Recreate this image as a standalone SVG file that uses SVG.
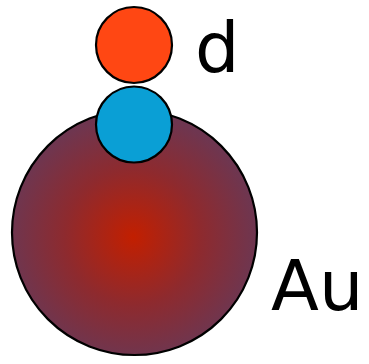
<svg xmlns="http://www.w3.org/2000/svg" width="369" height="364" viewBox="0 0 369 364">
<defs>
<radialGradient id="au" cx="133" cy="237" r="123" gradientUnits="userSpaceOnUse">
<stop offset="0" stop-color="#c21f00"/>
<stop offset="0.55" stop-color="#8e2a2e"/>
<stop offset="1" stop-color="#6e3650"/>
</radialGradient>
</defs>
<style>
.c{stroke:#000;stroke-width:2.2}
.t{font-family:"Lucida Grande","DejaVu Sans","Liberation Sans",sans-serif;font-size:70px;fill:#000}
</style>
<rect width="369" height="364" fill="#fff"/>
<g id="au-node">
<circle class="c" cx="134.5" cy="232.5" r="122.5" fill="url(#au)"/>
<text class="t" x="271" y="310">Au</text>
</g>
<g id="blue-node">
<circle class="c" cx="134" cy="124.5" r="38" fill="#0a9fd5"/>
</g>
<g id="d-node">
<circle class="c" cx="134" cy="45" r="38" fill="#ff4713"/>
<text class="t" x="195" y="72">d</text>
</g>
<g id="connectors"/>
</svg>
